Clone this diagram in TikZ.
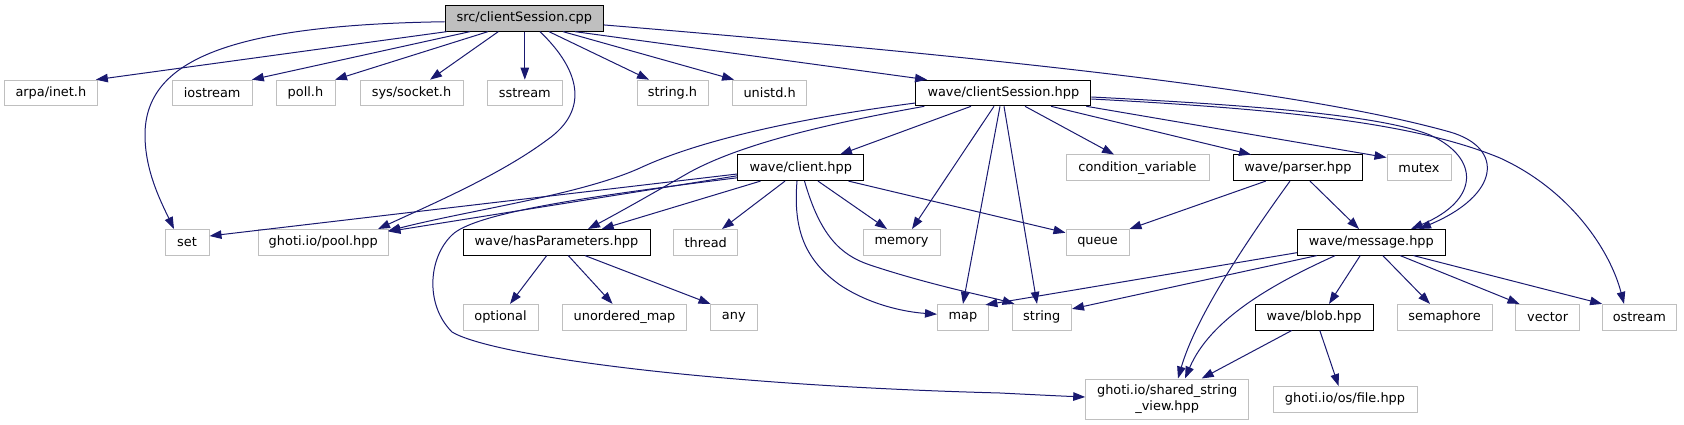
\documentclass[tikz,border=0pt]{standalone}
\usepackage{fontspec}
\setmainfont{DejaVu Sans}
\usetikzlibrary{arrows.meta}
\definecolor{edgeblue}{HTML}{191970}
\definecolor{boxgray}{HTML}{BFBFBF}
\begin{document}
\begin{tikzpicture}[x=1pt,y=-1pt,
  every node/.style={font=\fontsize{12.9}{16}\selectfont, inner sep=0pt, minimum height=25.6pt, text=black, line width=1pt},
  gbox/.style={draw=boxgray, fill=white},
  bbox/.style={draw=black, fill=white},
  cbox/.style={draw=black, fill=boxgray},
  dep/.style={draw=edgeblue, line width=1pt, -{Triangle[length=12pt,width=8.5pt]}}]
\useasboundingbox (0,0) rectangle (1684,425);
% nodes
\node[cbox, minimum width=158.6pt] (cpp) at (524.3,18.35) {src/clientSession.cpp};
\node[gbox, minimum width=92.3pt] (arpa) at (50.85,93) {arpa/inet.h};
\node[gbox, minimum width=80.3pt] (iostream) at (212.2,93) {iostream};
\node[gbox, minimum width=59pt] (poll) at (305.5,93) {poll.h};
\node[gbox, minimum width=103pt] (socket) at (411.5,93) {sys/socket.h};
\node[gbox, minimum width=75.6pt] (sstream) at (524.8,93) {sstream};
\node[gbox, minimum width=71pt] (stringh) at (672.5,93) {string.h};
\node[gbox, minimum width=74.3pt] (unistd) at (769.65,93) {unistd.h};
\node[bbox, minimum width=174.9pt] (csh) at (1003.35,93) {wave/clientSession.hpp};
\node[bbox, minimum width=126.1pt] (client) at (800.75,167.8) {wave/client.hpp};
\node[gbox, minimum width=143pt] (condvar) at (1137.5,167.8) {condition\_variable};
\node[bbox, minimum width=129.7pt] (parser) at (1297.85,167.8) {wave/parser.hpp};
\node[gbox, minimum width=64pt] (mutex) at (1419,167.8) {mutex};
\node[gbox, minimum width=44pt] (set) at (187,242.3) {set};
\node[gbox, minimum width=130.5pt] (pool) at (323.25,242.3) {ghoti.io/pool.hpp};
\node[bbox, minimum width=187pt] (hasp) at (556.5,242.3) {wave/hasParameters.hpp};
\node[gbox, minimum width=64pt] (thread) at (705.7,242.3) {thread};
\node[gbox, minimum width=77pt] (memory) at (901.5,242.3) {memory};
\node[gbox, minimum width=63pt] (queue) at (1097.5,242.3) {queue};
\node[bbox, minimum width=148pt] (message) at (1371.3,242.3) {wave/message.hpp};
\node[gbox, minimum width=75pt] (optional) at (500.5,317.2) {optional};
\node[gbox, minimum width=124.1pt] (umap) at (624.55,317.2) {unordered\_map};
\node[gbox, minimum width=47.6pt] (any) at (733.8,317.2) {any};
\node[gbox, minimum width=51pt] (map) at (963,317.2) {map};
\node[gbox, minimum width=59.5pt] (string) at (1041.75,317.2) {string};
\node[bbox, minimum width=118pt] (blob) at (1314,317.2) {wave/blob.hpp};
\node[gbox, minimum width=95pt] (semaphore) at (1444.5,317.2) {semaphore};
\node[gbox, minimum width=64.2pt] (vector) at (1547.6,317.2) {vector};
\node[gbox, minimum width=73.4pt] (ostream) at (1639.3,317.2) {ostream};
\node[gbox, minimum width=163pt, minimum height=40pt, align=center] (ssv) at (1167.2,399) {ghoti.io/shared\_string\\\_view.hpp};
\node[gbox, minimum width=144pt] (file) at (1345,399.3) {ghoti.io/os/file.hpp};
% edges from src/clientSession.cpp
\draw[dep] ([xshift=-77.6pt]cpp.south) -- ([xshift=45pt]arpa.north);
\draw[dep] ([xshift=-54.3pt]cpp.south) -- ([xshift=-1pt]iostream.north east);
\draw[dep] ([xshift=-36.3pt]cpp.south) -- ([xshift=-0.5pt]poll.north east);
\draw[dep] ([xshift=-26pt]cpp.south) -- ([xshift=18.5pt]socket.north);
\draw[dep] ([xshift=0.5pt]cpp.south) -- (sstream.north);
\draw[dep] ([yshift=-3.4pt]cpp.west) .. controls (230,25) and (145,60) .. (145,135) .. controls (145,170) and (160,200) .. ([xshift=-13pt]set.north);
\draw[dep] ([xshift=15.7pt]cpp.south) .. controls (580,70) and (590,110) .. (547,140) .. controls (500,175) and (430,205) .. ([xshift=54.75pt]pool.north);
\draw[dep] ([xshift=24.7pt]cpp.south) -- ([xshift=-23.5pt]stringh.north);
\draw[dep] ([xshift=38.7pt]cpp.south) -- ([xshift=-35.6pt]unistd.north);
\draw[dep] ([xshift=50.7pt]cpp.south) -- ([xshift=-76.3pt]csh.north);
\draw[dep] ([yshift=-6.6pt]cpp.east) .. controls (1000,58) and (1300,90) .. (1450,132) .. controls (1505,148) and (1500,195) .. ([xshift=47.7pt]message.north);
% edges from wave/clientSession.hpp
\draw[dep] ([xshift=-32.35pt]csh.south) -- ([xshift=39.25pt]client.north);
\draw[dep] ([yshift=-10pt]csh.west) .. controls (800,118) and (700,140) .. (640,168) .. controls (580,195) and (470,210) .. ([xshift=-1pt,yshift=-2pt]pool.north east);
\draw[dep] ([xshift=9pt]csh.south west) .. controls (820,125) and (740,145) .. (690,172) .. controls (650,195) and (620,212) .. ([xshift=31.5pt]hasp.north);
\draw[dep] ([xshift=-9.35pt]csh.south) -- ([xshift=10.5pt]memory.north);
\draw[dep] ([xshift=-3.35pt]csh.south) -- (map.north);
\draw[dep] ([xshift=0.65pt]csh.south) -- ([xshift=-4.75pt]string.north);
\draw[dep] ([xshift=21.65pt]csh.south) -- ([xshift=-23.5pt]condvar.north);
\draw[dep] ([xshift=47.65pt]csh.south) -- ([xshift=-46.85pt]parser.north);
\draw[dep] ([xshift=-5pt]csh.south east) -- ([yshift=-3pt]mutex.north west);
\draw[dep] ([yshift=-4pt]csh.east) .. controls (1250,105) and (1380,115) .. (1430,135) .. controls (1480,158) and (1480,200) .. ([xshift=39.7pt]message.north);
\draw[dep] ([yshift=-6pt]csh.east) .. controls (1300,110) and (1420,125) .. (1500,158) .. controls (1570,190) and (1610,250) .. ([xshift=-15.3pt]ostream.north);
% edges from wave/client.hpp
\draw[dep] ([yshift=-6.2pt]client.west) -- ([yshift=6.3pt]set.east);
\draw[dep] ([yshift=-8pt]client.west) -- ([xshift=-0.5pt,yshift=-2.5pt]pool.north east);
\draw[dep] ([yshift=-10pt]client.west) .. controls (600,195) and (475,212) .. (452,235) .. controls (428,258) and (425,305) .. (452,332) .. controls (490,355) and (700,385) .. (1000,393) .. controls (1040,395) and (1060,396) .. ([yshift=2pt]ssv.west);
\draw[dep] ([xshift=-40.25pt]client.south) -- ([xshift=45.2pt]hasp.north);
\draw[dep] ([xshift=-15.75pt]client.south) -- ([xshift=16.3pt]thread.north);
\draw[dep] ([xshift=17.25pt]client.south) -- ([xshift=-14.5pt]memory.north);
\draw[dep] ([xshift=47.75pt]client.south) -- ([yshift=-3.7pt]queue.north west);
\draw[dep] ([xshift=-3.75pt]client.south) .. controls (793,230) and (805,260) .. (840,285) .. controls (870,305) and (905,312) .. ([yshift=3pt]map.west);
\draw[dep] ([xshift=3.75pt]client.south) .. controls (820,235) and (840,255) .. (870,265) .. controls (930,285) and (990,297) .. ([xshift=3pt]string.north west);
% edges from wave/parser.hpp
\draw[dep] ([xshift=-32.15pt]parser.south) -- (queue.north east);
\draw[dep] ([xshift=-7.85pt]parser.south) .. controls (1240,250) and (1195,320) .. ([xshift=10.8pt]ssv.north);
\draw[dep] ([xshift=12.15pt]parser.south) -- ([xshift=-12.3pt]message.north);
% edges from wave/message.hpp
\draw[dep] ([yshift=-10.4pt]message.west) -- ([xshift=-3.6pt,yshift=-1pt]map.north east);
\draw[dep] ([xshift=20pt]message.south west) -- ([yshift=-5pt]string.north east);
\draw[dep] ([xshift=38.4pt]message.south west) .. controls (1270,285) and (1210,320) .. ([xshift=17.8pt]ssv.north);
\draw[dep] ([xshift=63.4pt]message.south west) -- ([xshift=15pt]blob.north);
\draw[dep] ([xshift=86pt]message.south west) -- ([xshift=-14.5pt]semaphore.north);
\draw[dep] ([xshift=103.4pt]message.south west) -- ([xshift=4.5pt]vector.north west);
\draw[dep] ([xshift=116.7pt]message.south west) -- (ostream.north west);
% edges from wave/blob.hpp
\draw[dep] ([xshift=-22.3pt]blob.south) -- ([xshift=34.5pt]ssv.north);
\draw[dep] ([xshift=5.8pt]blob.south) -- ([xshift=-6.4pt]file.north);
% edges from wave/hasParameters.hpp
\draw[dep] ([xshift=-9.8pt]hasp.south) -- ([xshift=9.5pt]optional.north);
\draw[dep] ([xshift=11.8pt]hasp.south) -- ([xshift=-12pt]umap.north);
\draw[dep] ([xshift=28.5pt]hasp.south) -- ([xshift=1pt]any.north west);
\end{tikzpicture}
\end{document}
